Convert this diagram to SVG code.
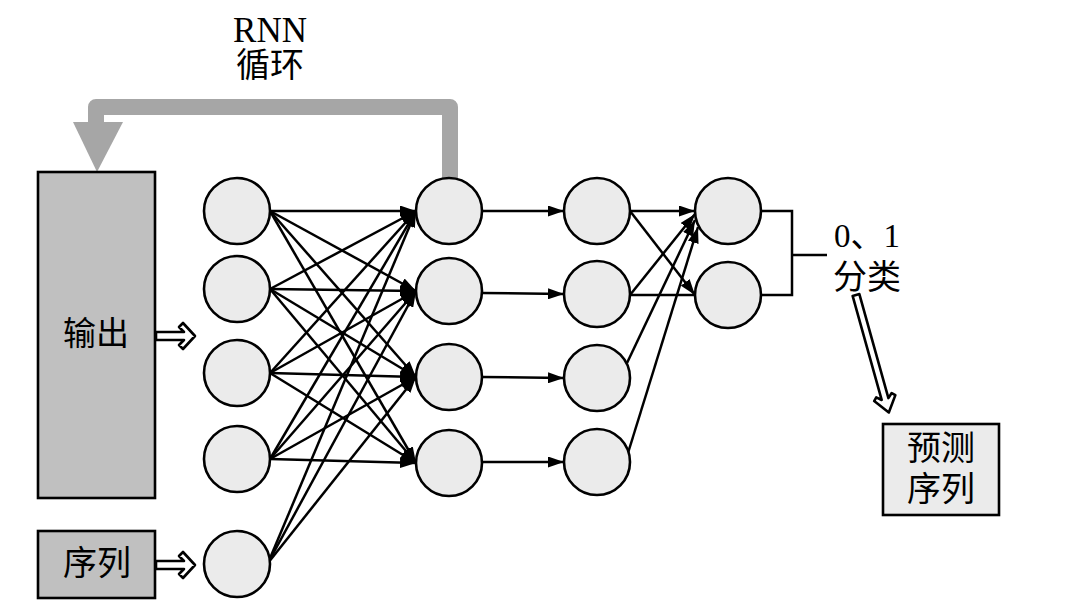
<svg xmlns="http://www.w3.org/2000/svg" width="1080" height="614" viewBox="0 0 1080 614">
<style>
.node{fill:#ebebeb;stroke:#000;stroke-width:2.6}
.box{fill:#c0c0c0;stroke:#000;stroke-width:2.6}
.lbox{fill:#ebebeb;stroke:#000;stroke-width:2.6}
.c line, .c polyline{stroke:#000;stroke-width:2.5;fill:none}
.a{marker-end:url(#ah)}
.t{font-family:"Liberation Serif","Noto Sans CJK SC",serif;fill:#000;text-anchor:middle}
.hol{fill:#fff;stroke:#000;stroke-width:2.6;stroke-linejoin:round}
</style>
<defs>
<marker id="ah" markerUnits="userSpaceOnUse" markerWidth="16" markerHeight="11" refX="16" refY="5.5" orient="auto">
<path d="M0,0 L16,5.5 L0,11 z" fill="#000"/>
</marker>
</defs>
<rect width="1080" height="614" fill="#fff"/>

<g id="feedback">
<path d="M450,190 V107 H96 V126" fill="none" stroke="#a6a6a6" stroke-width="16" stroke-linejoin="round"/>
<polygon points="73,122 123,122 97,172" fill="#a6a6a6"/>
</g>
<g id="rnn-label">
<text class="t" x="270" y="42" font-size="35">RNN</text>
<text class="t" x="270" y="77" font-size="34">循环</text>
</g>

<g class="c" id="connectors">
<line class="a" x1="270" y1="211" x2="416" y2="211"/>
<line class="a" x1="270" y1="211" x2="416" y2="291"/>
<line class="a" x1="270" y1="211" x2="416" y2="377"/>
<line class="a" x1="270" y1="211" x2="416" y2="463"/>
<line class="a" x1="270" y1="289" x2="416" y2="211"/>
<line class="a" x1="270" y1="289" x2="416" y2="291"/>
<line class="a" x1="270" y1="289" x2="416" y2="377"/>
<line class="a" x1="270" y1="289" x2="416" y2="463"/>
<line class="a" x1="270" y1="373" x2="416" y2="211"/>
<line class="a" x1="270" y1="373" x2="416" y2="291"/>
<line class="a" x1="270" y1="373" x2="416" y2="377"/>
<line class="a" x1="270" y1="373" x2="416" y2="463"/>
<line class="a" x1="270" y1="459" x2="416" y2="211"/>
<line class="a" x1="270" y1="459" x2="416" y2="291"/>
<line class="a" x1="270" y1="459" x2="416" y2="377"/>
<line class="a" x1="270" y1="459" x2="416" y2="463"/>
<line class="a" x1="268" y1="563" x2="416" y2="211"/>
<line class="a" x1="268" y1="563" x2="416" y2="291"/>
<line class="a" x1="268" y1="563" x2="416" y2="377"/>
<line class="a" x1="482" y1="211" x2="564" y2="211"/>
<line class="a" x1="482" y1="293" x2="564" y2="294"/>
<line class="a" x1="482" y1="377" x2="564" y2="378"/>
<line class="a" x1="482" y1="462" x2="564" y2="462"/>
<line class="a" x1="630" y1="211" x2="695" y2="211"/>
<line class="a" x1="630" y1="211" x2="695" y2="295"/>
<line x1="630" y1="295" x2="695" y2="295"/>
<line class="a" x1="630" y1="295" x2="695" y2="214"/>
<line class="a" x1="627" y1="363" x2="695" y2="220"/>
<line class="a" x1="628" y1="453" x2="698" y2="227"/>
<polyline points="761,211 792,211 792,295 761,295"/>
<line x1="792" y1="255" x2="827" y2="255"/>
</g>

<g id="box-output">
<rect class="box" x="38" y="172" width="117" height="326"/>
<text class="t" x="96" y="345" font-size="33">输出</text>
</g>
<g id="box-seq">
<rect class="box" x="38" y="531" width="117" height="67"/>
<text class="t" x="97" y="575" font-size="34">序列</text>
</g>
<g id="arrow-output">
<polygon class="hol" points="156,332 184,332 179,327 183,323 195,336 183,349 179,345 184,340 156,340"/>
</g>
<g id="arrow-seq">
<polygon class="hol" points="156,561 184,561 179,556 183,552 195,565 183,578 179,574 184,569 156,569"/>
</g>

<g id="l1n1"><circle class="node" cx="237" cy="211" r="33"/></g>
<g id="l1n2"><circle class="node" cx="237" cy="289" r="33"/></g>
<g id="l1n3"><circle class="node" cx="237" cy="373" r="33"/></g>
<g id="l1n4"><circle class="node" cx="237" cy="459" r="33"/></g>
<g id="l1n5"><circle class="node" cx="237" cy="564" r="33"/></g>
<g id="l2n1"><circle class="node" cx="449" cy="211" r="33"/></g>
<g id="l2n2"><circle class="node" cx="449" cy="291" r="33"/></g>
<g id="l2n3"><circle class="node" cx="449" cy="377" r="33"/></g>
<g id="l2n4"><circle class="node" cx="449" cy="463" r="33"/></g>
<g id="l3n1"><circle class="node" cx="597" cy="211" r="33"/></g>
<g id="l3n2"><circle class="node" cx="597" cy="294" r="33"/></g>
<g id="l3n3"><circle class="node" cx="597" cy="378" r="33"/></g>
<g id="l3n4"><circle class="node" cx="597" cy="462" r="33"/></g>
<g id="l4n1"><circle class="node" cx="728" cy="211" r="33"/></g>
<g id="l4n2"><circle class="node" cx="728" cy="295" r="33"/></g>

<g id="classify">
<text class="t" x="867" y="247" font-size="33">0、1</text>
<text class="t" x="867" y="289" font-size="34">分类</text>
</g>
<g id="arrow-predict">
<polygon class="hol" transform="translate(856,295) rotate(74.4)" points="0,-3.5 108,-3.5 104,-8 107,-11 122,0 107,11 104,8 108,3.5 0,3.5"/>
</g>
<g id="box-predict">
<rect class="lbox" x="883" y="424" width="116" height="91"/>
<text class="t" x="941" y="460" font-size="34">预测</text>
<text class="t" x="941" y="501" font-size="34">序列</text>
</g>
</svg>
